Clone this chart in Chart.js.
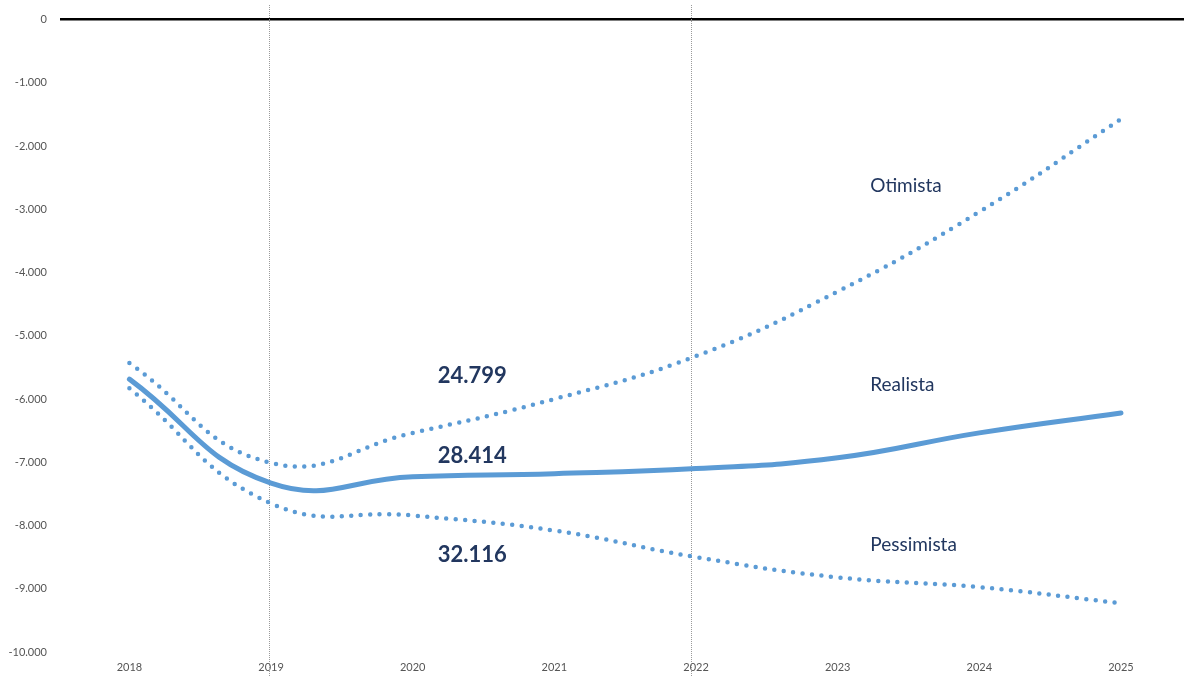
<!DOCTYPE html>
<html>
<head>
<meta charset="utf-8">
<script src="https://cdn.jsdelivr.net/npm/chart.js@4/dist/chart.umd.min.js"></script>
<style>
  html, body { margin: 0; padding: 0; background: #fff; }
  #wrap { width: 1184px; height: 677px; position: relative; }
</style>
</head>
<body>
<div id="wrap"><canvas id="myLineChart"></canvas></div>
<script>
// values
const years = [2018, 2019, 2020, 2021, 2022, 2023, 2024, 2025];
const realista = [-5685, -7330, -7230, -7180, -7100, -6930, -6535, -6220];
const otimista = [-5430, -7010, -6535, -6000, -5320, -4300, -3040, -1575];
const pessimista = [-5830, -7650, -7840, -8080, -8500, -8820, -8975, -9230];
const yTicks = [0, -1000, -2000, -3000, -4000, -5000, -6000, -7000, -8000, -9000, -10000];
const markerYears = [2018.985, 2021.965];

// text placed in data units
const notes = [
  { text: "24.799", x: 2020.42, y: -5640, bold: true },
  { text: "28.414", x: 2020.42, y: -6900, bold: true },
  { text: "32.116", x: 2020.42, y: -8460, bold: true },
  { text: "Otimista", x: 2023.23, y: -2630, bold: false },
  { text: "Realista", x: 2023.23, y: -5780, bold: false },
  { text: "Pessimista", x: 2023.23, y: -8300, bold: false },
];

const blue = "#5b9bd5";
const navy = "#22375f";

function toPoints(arr) {
  return years.map(function (yr, i) { return { x: yr, y: arr[i] }; });
}

const extras = {
  id: "extras",
  beforeDatasetsDraw(chart) {
    const ctx = chart.ctx;
    const xs = chart.scales.x;
    ctx.save();
    ctx.strokeStyle = "#9a9a9a";
    ctx.lineWidth = 1;
    ctx.setLineDash([1, 1]);
    markerYears.forEach(function (yr) {
      const px = Math.round(xs.getPixelForValue(yr)) + 0.5;
      ctx.beginPath();
      ctx.moveTo(px, 5);
      ctx.lineTo(px, chart.height);
      ctx.stroke();
    });
    ctx.restore();
  },
  afterDatasetsDraw(chart) {
    const ctx = chart.ctx;
    const xs = chart.scales.x;
    const ys = chart.scales.y;
    ctx.save();
    ctx.fillStyle = navy;
    ctx.textBaseline = "middle";
    notes.forEach(function (n) {
      if (n.bold) {
        ctx.font = "bold 22px Lato";
        ctx.textAlign = "center";
      } else {
        ctx.font = "19px Lato";
        ctx.textAlign = "left";
      }
      ctx.fillText(n.text, xs.getPixelForValue(n.x), ys.getPixelForValue(n.y));
    });
    ctx.restore();
  },
};

function lineSet(label, arr, dotted) {
  return {
    label: label,
    data: toPoints(arr),
    borderColor: blue,
    backgroundColor: blue,
    borderWidth: dotted ? 4.5 : 5,
    borderDash: dotted ? [0, 9.5] : [],
    borderCapStyle: "round",
    tension: 0.45,
    pointRadius: 0,
    fill: false,
  };
}

document.addEventListener("DOMContentLoaded", function () {
  const ctx = document.getElementById("myLineChart").getContext("2d");
  new Chart(ctx, {
    type: "line",
    data: {
      datasets: [
        lineSet("Otimista", otimista, true),
        lineSet("Realista", realista, false),
        lineSet("Pessimista", pessimista, true),
      ],
    },
    options: {
      responsive: true,
      maintainAspectRatio: false,
      animation: false,
      layout: { padding: { top: 11, right: 0, bottom: 0, left: 0 } },
      plugins: {
        legend: { display: false },
        tooltip: { enabled: false },
      },
      scales: {
        x: {
          type: "linear",
          min: 2017.51,
          max: 2025.445,
          afterBuildTicks: function (scale) {
            scale.ticks = years.map(function (v) { return { value: v }; });
          },
          afterFit: function (scale) { scale.height = 25; },
          grid: { display: false, drawTicks: false },
          border: { display: false },
          ticks: {
            padding: 9,
            color: "#555",
            font: { family: "Lato", size: 11 },
            callback: function (v) { return String(v); },
          },
        },
        y: {
          min: -10000,
          max: 0,
          afterBuildTicks: function (scale) {
            scale.ticks = yTicks.map(function (v) { return { value: v }; });
          },
          afterFit: function (scale) { scale.width = 60; },
          grid: {
            drawTicks: false,
            color: function (c) { return c.tick && c.tick.value === 0 ? "#000" : "rgba(0,0,0,0)"; },
            lineWidth: function (c) { return c.tick && c.tick.value === 0 ? 2.5 : 0; },
          },
          border: { display: false },
          ticks: {
            padding: 13,
            color: "#555",
            font: { family: "Lato", size: 11 },
            callback: function (v) {
              if (v === 0) return "0";
              return "-" + Math.abs(v).toLocaleString("de-DE");
            },
          },
        },
      },
    },
    plugins: [extras],
  });
});
</script>
</body>
</html>
